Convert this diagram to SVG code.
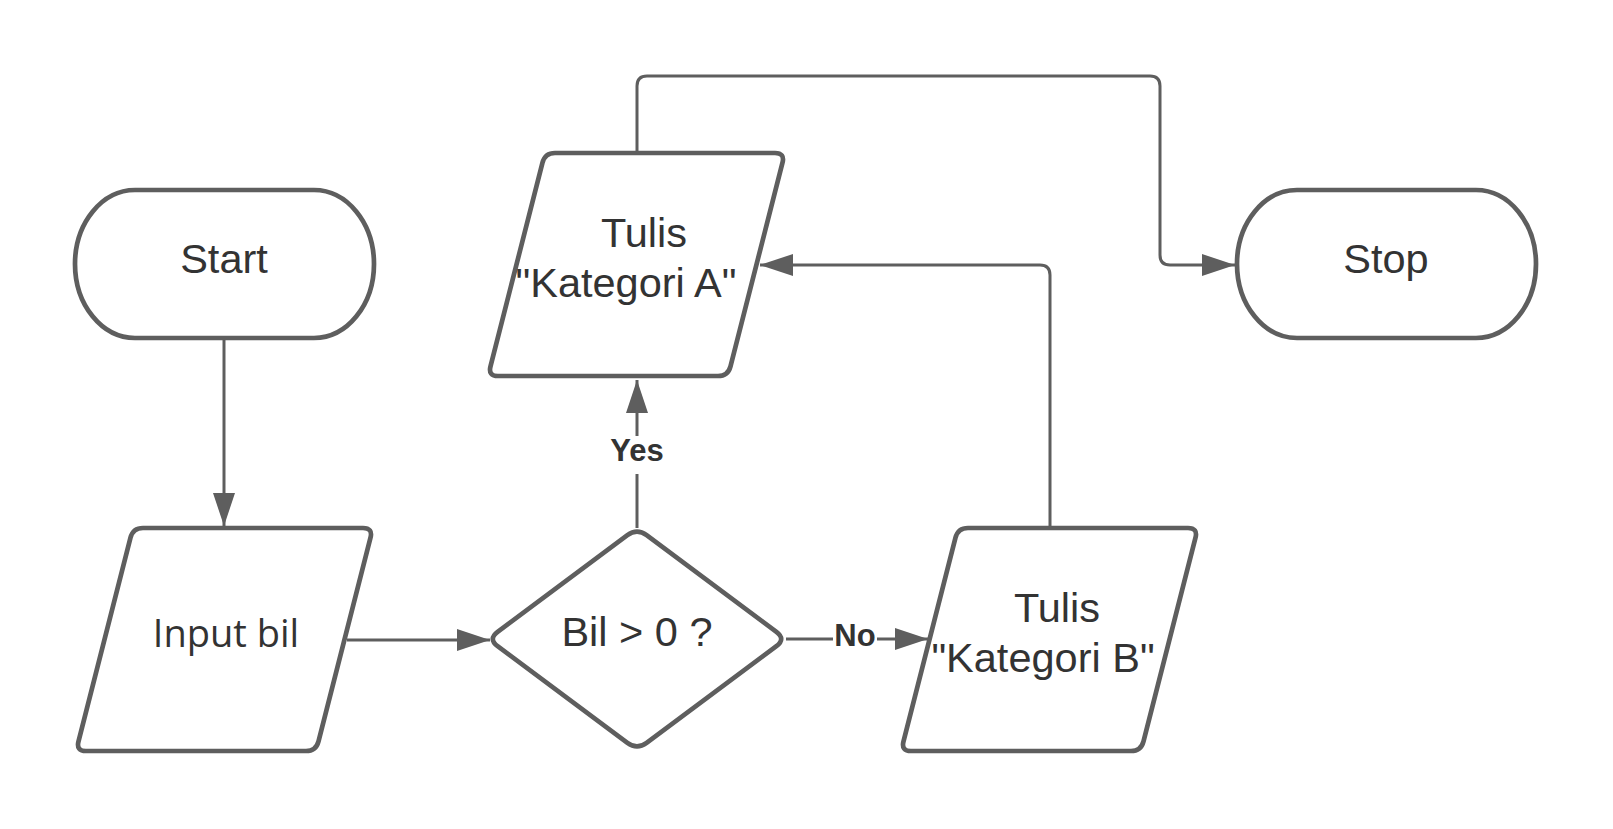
<svg xmlns="http://www.w3.org/2000/svg" xmlns:xlink="http://www.w3.org/1999/xlink" width="1613" height="829" viewBox="0 0 1613 829">
<style>
.shape{fill:#ffffff;stroke:#5e5e5e;stroke-width:4.7;stroke-linejoin:round}
.lbl{font-family:"Liberation Sans",Arial,sans-serif;font-size:41.5px;fill:#333333;text-anchor:middle}
.lbl2{font-family:"Open Sans","Noto Sans",sans-serif;font-size:38px;fill:#333333;text-anchor:middle}
.edge{fill:none;stroke:#5e5e5e;stroke-width:3;stroke-linejoin:round}
.elbl{font-family:"Liberation Sans",Arial,sans-serif;font-size:31px;font-weight:bold;fill:#333333;text-anchor:middle}
.bg{fill:#ffffff}
</style>
<defs>
<path id="para" d="M 10,0 L 230,0 Q 240,0 237.5,9.7 L 185.5,213.3 Q 183,223 173,223 L -47,223 Q -57,223 -54.5,213.3 L -2.5,9.7 Q 0,0 10,0 Z"/>
<marker id="arr" markerUnits="userSpaceOnUse" markerWidth="34" markerHeight="24" refX="33" refY="11" orient="auto">
<path d="M0,0 L33,11 L0,22 Z" fill="#5e5e5e"/>
</marker>
</defs>
<rect width="1613" height="829" fill="#ffffff"/>
<g id="connectors">
<path class="edge" d="M 224,339 L 224,526" marker-end="url(#arr)"/>
<path class="edge" d="M 347,640 L 490,640" marker-end="url(#arr)"/>
<path class="edge" d="M 637,528 L 637,380" marker-end="url(#arr)"/>
<rect class="bg" x="612" y="436" width="50" height="38"/>
<text class="elbl" x="637" y="461">Yes</text>
<path class="edge" d="M 786,639 L 928,639" marker-end="url(#arr)"/>
<rect class="bg" x="833" y="622" width="44" height="32"/>
<text class="elbl" x="855" y="646">No</text>
<path class="edge" d="M 1050,526 L 1050,275 Q 1050,265 1040,265 L 760,265" marker-end="url(#arr)"/>
<path class="edge" d="M 637,151 L 637,86 Q 637,76 647,76 L 1150,76 Q 1160,76 1160,86 L 1160,255 Q 1160,265 1170,265 L 1235,265" marker-end="url(#arr)"/>
</g>
<g id="start">
<rect class="shape" x="75" y="190" width="299" height="148" rx="60" ry="74"/>
<text class="lbl" x="224" y="273">Start</text>
</g>
<g id="input">
<use xlink:href="#para" class="shape" transform="translate(133,528)"/>
<text class="lbl2" x="226" y="647">Input bil</text>
</g>
<g id="decision">
<path class="shape" d="M 497.6,631.8 L 627.4,535.2 Q 637,528 646.6,535.2 L 776.4,631.8 Q 786,639 776.4,646.2 L 646.6,742.8 Q 637,750 627.4,742.8 L 497.6,646.2 Q 488,639 497.6,631.8 Z"/>
<text class="lbl" x="637" y="646">Bil &gt; 0 ?</text>
</g>
<g id="tulisA">
<use xlink:href="#para" class="shape" transform="translate(545,153)"/>
<text class="lbl" x="644" y="247">Tulis</text>
<text class="lbl" x="626" y="297">"Kategori A"</text>
</g>
<g id="tulisB">
<use xlink:href="#para" class="shape" transform="translate(958,528)"/>
<text class="lbl" x="1057" y="622">Tulis</text>
<text class="lbl" x="1043" y="672">"Kategori B"</text>
</g>
<g id="stop">
<rect class="shape" x="1237" y="190" width="299" height="148" rx="60" ry="74"/>
<text class="lbl" x="1386" y="273">Stop</text>
</g>
</svg>
